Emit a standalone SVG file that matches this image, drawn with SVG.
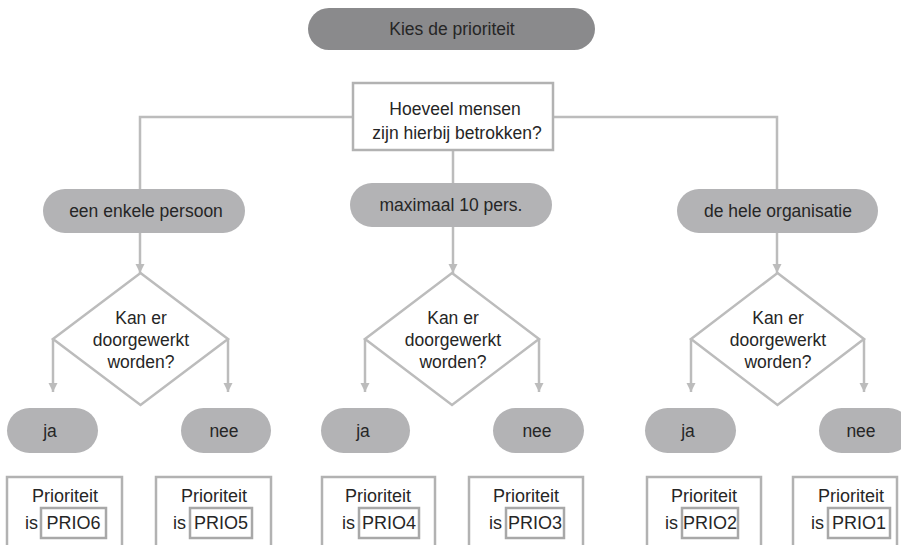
<svg xmlns="http://www.w3.org/2000/svg" width="901" height="545" viewBox="0 0 901 545">
<defs>
<style>
text{font-family:"Liberation Sans",Arial,sans-serif;font-size:17.5px;fill:#262626;text-anchor:middle}
.dark{fill:#8a8a8c}
.pill{fill:#b3b3b5}
.box{fill:#fff;stroke:#b2b2b2;stroke-width:2.5}
.ibox{fill:#fff;stroke:#a8a8a8;stroke-width:2.5}
.dia{fill:#fff;stroke:#bcbcbc;stroke-width:2.5}
.con{fill:none;stroke:#bcbcbc;stroke-width:2.5}
.arr{fill:none;stroke:#bcbcbc;stroke-width:2.5;marker-end:url(#ah)}
.b{font-size:18px}
.is{text-anchor:end;font-size:18px}
</style>
<marker id="ah" viewBox="0 0 10 10" refX="10" refY="5" markerWidth="9" markerHeight="12" markerUnits="userSpaceOnUse" orient="auto">
<path d="M0,0 L10,5 L0,10 z" fill="#bcbcbc"/>
</marker>
</defs>
<rect width="901" height="545" fill="#fff"/>

<g id="connectors">
<path class="con" d="M140,189 V117 H353 M553,117 H777 V189 M453,150 V183"/>
<path class="arr" d="M140,233 V273"/>
<path class="arr" d="M453,227 V273"/>
<path class="arr" d="M777,233 V273"/>
<path class="arr" d="M53,339 V392"/>
<path class="arr" d="M228,339 V392"/>
<path class="arr" d="M365,339 V392"/>
<path class="arr" d="M539,339 V392"/>
<path class="arr" d="M691,339 V392"/>
<path class="arr" d="M864,339 V392"/>
</g>

<g id="start">
<rect class="dark" x="308" y="8" width="287" height="42" rx="21"/>
<text x="452" y="35">Kies de prioriteit</text>
</g>

<g id="question">
<rect class="box" x="353" y="83" width="200" height="67"/>
<text x="455" y="115">Hoeveel mensen</text>
<text x="457" y="139">zijn hierbij betrokken?</text>
</g>

<g id="opt-single">
<rect class="pill" x="43" y="189" width="202" height="44" rx="22"/>
<text x="146" y="217">een enkele persoon</text>
</g>
<g id="opt-max10">
<rect class="pill" x="350" y="183" width="202" height="44" rx="22"/>
<text x="451" y="211">maximaal 10 pers.</text>
</g>
<g id="opt-org">
<rect class="pill" x="677" y="189" width="201" height="44" rx="22"/>
<text x="778" y="217">de hele organisatie</text>
</g>

<g id="dec-1">
<path class="dia" d="M140.5,273 L228,339 L140.5,405 L53,339 Z"/>
<text x="141" y="324">Kan er</text>
<text x="141" y="346">doorgewerkt</text>
<text x="141" y="368">worden?</text>
</g>
<g id="dec-2">
<path class="dia" d="M452,273 L539,339 L452,405 L365,339 Z"/>
<text x="453" y="324">Kan er</text>
<text x="453" y="346">doorgewerkt</text>
<text x="453" y="368">worden?</text>
</g>
<g id="dec-3">
<path class="dia" d="M777.5,273 L864,339 L777.5,405 L691,339 Z"/>
<text x="778" y="324">Kan er</text>
<text x="778" y="346">doorgewerkt</text>
<text x="778" y="368">worden?</text>
</g>

<g id="ja-1"><rect class="pill" x="7" y="408" width="91" height="45" rx="22.5"/><text x="50" y="437">ja</text></g>
<g id="nee-1"><rect class="pill" x="181" y="408" width="90" height="45" rx="22.5"/><text x="224" y="437">nee</text></g>
<g id="ja-2"><rect class="pill" x="321" y="408" width="89" height="45" rx="22.5"/><text x="363" y="437">ja</text></g>
<g id="nee-2"><rect class="pill" x="493" y="408" width="91" height="45" rx="22.5"/><text x="537" y="437">nee</text></g>
<g id="ja-3"><rect class="pill" x="645" y="408" width="91" height="45" rx="22.5"/><text x="688" y="437">ja</text></g>
<g id="nee-3"><rect class="pill" x="819" y="408" width="92" height="45" rx="22.5"/><text x="861" y="437">nee</text></g>

<g id="prio6">
<rect class="box" x="7" y="477" width="115" height="90"/>
<text class="b" x="65" y="502">Prioriteit</text>
<text class="is" x="38" y="529">is</text>
<rect class="ibox" x="41" y="508" width="65" height="30"/>
<text class="b" x="73.5" y="529">PRIO6</text>
</g>
<g id="prio5">
<rect class="box" x="156" y="477" width="115" height="90"/>
<text class="b" x="214" y="502">Prioriteit</text>
<text class="is" x="186" y="529">is</text>
<rect class="ibox" x="190" y="508" width="62" height="30"/>
<text class="b" x="221" y="529">PRIO5</text>
</g>
<g id="prio4">
<rect class="box" x="322" y="477" width="113" height="90"/>
<text class="b" x="378" y="502">Prioriteit</text>
<text class="is" x="355" y="529">is</text>
<rect class="ibox" x="359" y="508" width="60" height="30"/>
<text class="b" x="389" y="529">PRIO4</text>
</g>
<g id="prio3">
<rect class="box" x="469" y="477" width="114" height="90"/>
<text class="b" x="526" y="502">Prioriteit</text>
<text class="is" x="502" y="529">is</text>
<rect class="ibox" x="506" y="508" width="58" height="30"/>
<text class="b" x="535" y="529">PRIO3</text>
</g>
<g id="prio2">
<rect class="box" x="647" y="477" width="114" height="90"/>
<text class="b" x="704" y="502">Prioriteit</text>
<text class="is" x="678" y="529">is</text>
<rect class="ibox" x="682" y="508" width="56" height="30"/>
<text class="b" x="710" y="529">PRIO2</text>
</g>
<g id="prio1">
<rect class="box" x="793" y="477" width="104" height="90"/>
<text class="b" x="851" y="502">Prioriteit</text>
<text class="is" x="824" y="529">is</text>
<rect class="ibox" x="828" y="508" width="62" height="30"/>
<text class="b" x="859" y="529">PRIO1</text>
</g>
</svg>
